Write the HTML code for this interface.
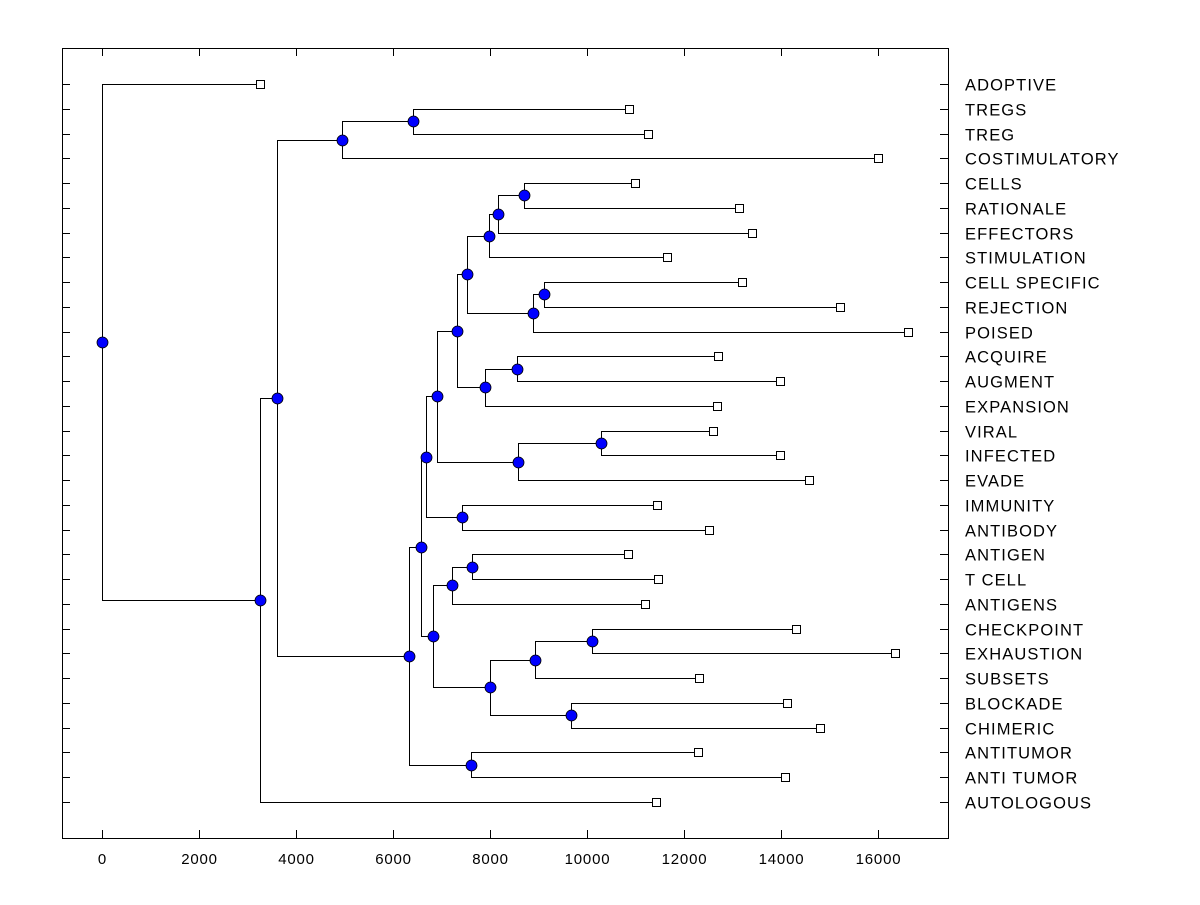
<!DOCTYPE html>
<html><head><meta charset="utf-8"><style>
body{margin:0;background:#fff}
svg text{font-family:"Liberation Sans",Arial,sans-serif}
</style></head><body>
<svg id="chart" width="1200" height="900" xmlns="http://www.w3.org/2000/svg"></svg>
<script>
const labels=["ADOPTIVE","TREGS","TREG","COSTIMULATORY","CELLS","RATIONALE","EFFECTORS","STIMULATION","CELL SPECIFIC","REJECTION","POISED","ACQUIRE","AUGMENT","EXPANSION","VIRAL","INFECTED","EVADE","IMMUNITY","ANTIBODY","ANTIGEN","T CELL","ANTIGENS","CHECKPOINT","EXHAUSTION","SUBSETS","BLOCKADE","CHIMERIC","ANTITUMOR","ANTI TUMOR","AUTOLOGOUS"];
const leafValues=[3257,10866,11258,16000,10990,13134,13402,11650,13196,15216,16618,12700,13980,12680,12597,13980,14578,11444,12516,10846,11464,11196,14309,16351,12310,14124,14804,12288,14083,11422];
const nodeNames=["V","U","R","T","S","O","Q","P","L","N","M","J","K","H","Y","W","AB","Z","AA","X","I","F","G","D","E","C","B","A","root"];
const nodeValues=[8701,8165,7979,9113,8887,7526,8556,7897,7320,10289,8577,6907,7423,6680,7629,7217,10103,8928,9670,8000,6825,6577,7609,6330,6412,4948,3608,3257,0];
const nodeChildA=[4,"V","U",8,"T","R",11,"Q","O",14,"N","L",17,"J",19,"Y",22,"AB",25,"Z","W","H",27,"F",1,"E","C","B",0];
const nodeChildB=[5,6,7,9,10,"S",12,13,"P",15,16,"M",18,"K",20,21,23,24,26,"AA","X","I",28,"G",2,3,"D",29,"A"];
const xTicks=[0,2000,4000,6000,8000,10000,12000,14000,16000];
const X0=62,X1=948,Y0=48,Y1=838;
const xs=v=>102+v*0.0485;
const ys=i=>84+i*(718/29);
const svg=document.getElementById('chart');
const NS="http://www.w3.org/2000/svg";
function mk(t,a){const e=document.createElementNS(NS,t);for(const k in a)e.setAttribute(k,a[k]);svg.appendChild(e);return e;}
let f=mk('rect',{x:X0+0.5,y:Y0+0.5,width:X1-X0,height:Y1-Y0,fill:'none',stroke:'#000'});


xTicks.forEach(t=>{
 const x=Math.round(xs(t))+0.5;
 let l=mk('line',{x1:x,x2:x,y1:Y1,y2:Y1-8,stroke:'#000'});
 
 
 let l2=mk('line',{x1:x,x2:x,y1:Y0,y2:Y0+8,stroke:'#000'});
 
 
 let tx=mk('text',{x:x,y:864,'text-anchor':'middle','font-size':15,'letter-spacing':0.8});
 tx.textContent=t;
 
 
});
labels.forEach((s,i)=>{
 const y=Math.round(ys(i))+0.5;
 let l=mk('line',{x1:X0,x2:X0+8,y1:y,y2:y,stroke:'#000'});
 
 
 let r=mk('line',{x1:X1-8,x2:X1,y1:y,y2:y,stroke:'#000'});
 
 
 let tx=mk('text',{x:965,y:y+6,'font-size':16.5,'letter-spacing':1.1});
 tx.textContent=s;
 
 
});
const pos={};
function getPos(c){if(typeof c==='number')return {x:xs(leafValues[c]),y:ys(c),leaf:true,i:c};return pos[c];}
nodeNames.forEach((n,k)=>{
 const a=getPos(nodeChildA[k]),b=getPos(nodeChildB[k]);
 pos[n]={x:xs(nodeValues[k]),y:(a.y+b.y)/2,leaf:false};
});
const circles=[],squares=[];
nodeNames.forEach((n,k)=>{
 const p=pos[n];
 [nodeChildA[k],nodeChildB[k]].forEach(c=>{
  const q=getPos(c);
  const x=Math.round(p.x)+0.5,y=Math.round(q.y)+0.5;
  let pl=mk('polyline',{points:`${x},${Math.round(p.y)+0.5} ${x},${y} ${Math.round(q.x)+0.5},${y}`,fill:'none',stroke:'#000'});
  
  
  if(q.leaf)squares.push(q);
 });
 circles.push(p);
});
squares.forEach(q=>{
 let s=mk('rect',{x:Math.round(q.x)-3.5,y:Math.round(q.y)-3.5,width:8,height:8,fill:'#fff',stroke:'#000'});
 
 
});
circles.forEach(p=>{
 let c=mk('circle',{cx:Math.round(p.x)+0.5,cy:Math.round(p.y)+0.5,r:5.5,fill:'#0000ff',stroke:'#000','stroke-width':0.8});
 
 
});
</script>
</body></html>
